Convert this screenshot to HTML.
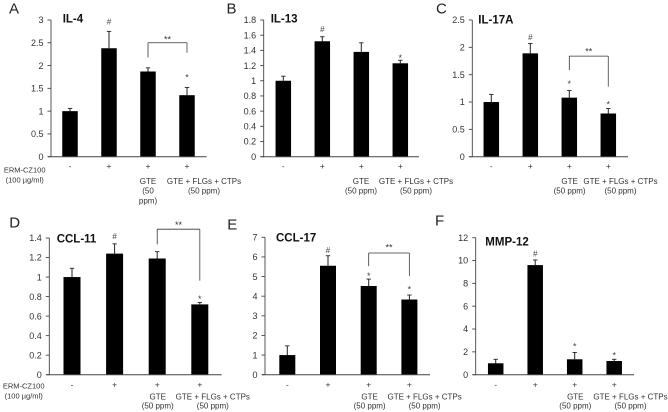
<!DOCTYPE html>
<html lang="en">
<head>
<meta charset="utf-8">
<title>Cytokine expression bar charts</title>
<style>
html,body{margin:0;padding:0;background:#fff;}
#figure{display:block;width:668px;height:412px;filter:blur(0.3px);}
text{font-family:"Liberation Sans",sans-serif;fill:#333;}
</style>
</head>
<body>
<svg id="figure" xmlns="http://www.w3.org/2000/svg" width="668" height="412" viewBox="0 0 668 412"></svg>
<script>
// Shared categories
const signs = ['-', '+', '+', '+'];

// Panel A: IL-4
const il4Ticks = ['0', '0.5', '1', '1.5', '2', '2.5', '3'];
const il4Values = [1, 2.38, 1.87, 1.35];
const il4ErrorTops = [1.06, 2.75, 1.95, 1.52];
const il4Marks = ['', '#', '', '*'];
const il4MarkLevels = [0, 2.96, 0, 1.77];
const il4Bracket = [2.5, 2.18, 2.28, 2.61];

// Panel B: IL-13
const il13Ticks = ['0', '0.2', '0.4', '0.6', '0.8', '1', '1.2', '1.4', '1.6', '1.8'];
const il13Values = [1, 1.52, 1.38, 1.23];
const il13ErrorTops = [1.06, 1.58, 1.5, 1.27];
const il13Marks = ['', '#', '', '*'];
const il13MarkLevels = [0, 1.68, 0, 1.32];
const il13Bracket = [];

// Panel C: IL-17A
const il17Ticks = ['0', '0.5', '1', '1.5', '2', '2.5'];
const il17Values = [1, 1.89, 1.08, 0.79];
const il17ErrorTops = [1.14, 2.07, 1.21, 0.88];
const il17Marks = ['', '#', '*', '*'];
const il17MarkLevels = [0, 2.19, 1.36, 0.98];
const il17Bracket = [1.84, 1.585, 1.28, 1.95];

// Panel D: CCL-11
const ccl11Ticks = ['0', '0.2', '0.4', '0.6', '0.8', '1', '1.2', '1.4'];
const ccl11Values = [1, 1.24, 1.19, 0.72];
const ccl11ErrorTops = [1.09, 1.34, 1.26, 0.74];
const ccl11Marks = ['', '#', '', '*'];
const ccl11MarkLevels = [0, 1.42, 0, 0.79];
const ccl11Bracket = [1.49, 1.335, 0.963, 1.55];

// Panel E: CCL-17
const ccl17Ticks = ['0', '1', '2', '3', '4', '5', '6', '7'];
const ccl17Values = [1, 5.55, 4.52, 3.83];
const ccl17ErrorTops = [1.47, 6.06, 4.87, 4.06];
const ccl17Marks = ['', '#', '*', '*'];
const ccl17MarkLevels = [0, 6.34, 5.11, 4.43];
const ccl17Bracket = [6.2, 5.53, 5.03, 6.55];

// Panel F: MMP-12
const mmp12Ticks = ['0', '2', '4', '6', '8', '10', '12'];
const mmp12Values = [1, 9.6, 1.35, 1.2];
const mmp12ErrorTops = [1.35, 10.05, 1.95, 1.35];
const mmp12Marks = ['', '#', '*', '*'];
const mmp12MarkLevels = [0, 10.6, 2.63, 1.81];
const mmp12Bracket = [];

const svg = document.getElementById('figure');
const NS = 'http://www.w3.org/2000/svg';

function addLine(parent, x1, y1, x2, y2, stroke, width, name) {
  const el = document.createElementNS(NS, 'line');
  el.setAttribute('x1', x1);
  el.setAttribute('y1', y1);
  el.setAttribute('x2', x2);
  el.setAttribute('y2', y2);
  el.setAttribute('stroke', stroke);
  el.setAttribute('stroke-width', width);
  
  
  parent.appendChild(el);
  return el;
}

function addText(parent, content, x, y, size, anchor, name, weight, color) {
  const el = document.createElementNS(NS, 'text');
  el.setAttribute('x', x);
  el.setAttribute('y', y);
  el.setAttribute('font-size', size);
  el.setAttribute('text-anchor', anchor);
  if (weight) el.setAttribute('font-weight', weight);
  if (color) el.setAttribute('style', 'fill:' + color);
  
  
  el.textContent = content;
  parent.appendChild(el);
  return el;
}

function drawPanel(p) {
  const g = document.createElementNS(NS, 'g');
  
  
  svg.appendChild(g);

  const maxTick = parseFloat(p.ticks[p.ticks.length - 1]);
  const yScale = v => p.y0 - (v / maxTick) * (p.y0 - p.yTop);
  const xScale = i => p.first + i * p.step;

  addText(g, p.letter, p.letterX, p.letterY, 15, 'start', 'panel-letter-' + p.key, null, '#222');
  addText(g, p.title, p.titleX, p.titleY, 11.5, 'start', 'chart-title-' + p.key, 'bold', '#111');

  // Bars and error bars
  p.values.forEach((v, i) => {
    const cx = xScale(i);
    const top = yScale(p.errs[i]);
    addLine(g, cx, yScale(v), cx, top, '#222', 1, 'error-bar-' + p.key + '-' + i);
    addLine(g, cx - 2.2, top, cx + 2.2, top, '#222', 0.9, 'error-cap-' + p.key + '-' + i);
    const bar = document.createElementNS(NS, 'rect');
    bar.setAttribute('x', cx - p.barW / 2);
    bar.setAttribute('y', yScale(v));
    bar.setAttribute('width', p.barW);
    bar.setAttribute('height', p.y0 - yScale(v));
    bar.setAttribute('fill', '#000');
    
    
    g.appendChild(bar);
  });

  // Axes
  addLine(g, p.axisX, p.yTop, p.axisX, p.y0, '#444', 0.9, 'y-axis-' + p.key);
  addLine(g, p.axisX - 3, p.y0, p.xEnd, p.y0, '#444', 1, 'x-axis-' + p.key);
  p.ticks.forEach((t, i) => {
    const y = yScale(parseFloat(t));
    addLine(g, p.axisX - 3.5, y, p.axisX, y, '#444', 0.9, 'y-tick-' + p.key + '-' + i);
    addText(g, t, p.axisX - 7.5, y + 3.2, 9, 'end', 'y-tick-label-' + p.key + '-' + i);
  });

  // Significance marks
  p.marks.forEach((m, i) => {
    if (!m) return;
    const off = m === '#' ? 2.8 : 4.6;
    addText(g, m, xScale(i), yScale(p.markLevels[i]) + off, m === '#' ? 8 : 9, 'middle', 'significance-mark-' + p.key + '-' + i, null, '#444');
  });

  // Bracket between bars 3 and 4
  if (p.bracket.length) {
    const xL = xScale(2);
    const xR = xScale(3);
    const yT = yScale(p.bracket[0]);
    addLine(g, xL, yT, xR, yT, '#333', 0.8, 'bracket-top-' + p.key);
    addLine(g, xL, yT, xL, yScale(p.bracket[1]), '#333', 0.8, 'bracket-left-' + p.key);
    addLine(g, xR, yT, xR, yScale(p.bracket[2]), '#555', 0.9, 'bracket-right-' + p.key);
    addText(g, '**', (xL + xR) / 2, yScale(p.bracket[3]) + 4.6, 9, 'middle', 'bracket-label-' + p.key, null, '#333');
  }

  // Category labels
  signs.forEach((s, i) => {
    addText(g, s, xScale(i), p.signY, 8.5, 'middle', 'treatment-sign-' + p.key + '-' + i);
  });
  addText(g, 'GTE', p.gteX, p.l1, 8, 'middle', 'gte-label-' + p.key);
  if (p.wrapGte) {
    addText(g, '(50', p.gteX, p.l2, 8, 'middle', 'gte-dose-line1-' + p.key);
    addText(g, 'ppm)', p.gteX, p.l2 + 10, 8, 'middle', 'gte-dose-line2-' + p.key);
  } else {
    addText(g, '(50 ppm)', p.gteX, p.l2, 8, 'middle', 'gte-dose-' + p.key);
  }
  addText(g, 'GTE + FLGs + CTPs', p.comboX, p.l1, 8, 'middle', 'combo-label-' + p.key);
  addText(g, '(50 ppm)', p.comboX, p.l2, 8, 'middle', 'combo-dose-' + p.key);
  if (p.ermX) {
    addText(g, 'ERM-CZ100', p.ermX, p.ermY, 7.5, 'middle', 'erm-label-' + p.key);
    addText(g, '(100 µg/ml)', p.ermX, p.ermY + 10, 7.5, 'middle', 'erm-dose-' + p.key);
  }
}

drawPanel({key:'il-4', letter:'A', letterX:9, letterY:13.5, title:'IL-4', titleX:62.7, titleY:22.5,
  ticks:il4Ticks, values:il4Values, errs:il4ErrorTops, marks:il4Marks, markLevels:il4MarkLevels, bracket:il4Bracket,
  axisX:51, xEnd:206.7, y0:156.7, yTop:20, first:70, step:39, barW:15.5,
  signY:169, l1:184, l2:193.5, gteX:148, comboX:204, wrapGte:true, ermX:24.7, ermY:172.5});
drawPanel({key:'il-13', letter:'B', letterX:226.5, letterY:13.5, title:'IL-13', titleX:270.7, titleY:22.7,
  ticks:il13Ticks, values:il13Values, errs:il13ErrorTops, marks:il13Marks, markLevels:il13MarkLevels, bracket:il13Bracket,
  axisX:263.7, xEnd:419, y0:156.7, yTop:20, first:283.3, step:39, barW:15.5,
  signY:169, l1:184, l2:193.5, gteX:361, comboX:416});
drawPanel({key:'il-17a', letter:'C', letterX:436, letterY:13.5, title:'IL-17A', titleX:478.3, titleY:23.7,
  ticks:il17Ticks, values:il17Values, errs:il17ErrorTops, marks:il17Marks, markLevels:il17MarkLevels, bracket:il17Bracket,
  axisX:472.3, xEnd:628, y0:156.7, yTop:20, first:491.3, step:39, barW:15.5,
  signY:169, l1:184, l2:193.5, gteX:569.6, comboX:620.5});
drawPanel({key:'ccl-11', letter:'D', letterX:9.3, letterY:227.7, title:'CCL-11', titleX:56.7, titleY:242.7,
  ticks:ccl11Ticks, values:ccl11Values, errs:ccl11ErrorTops, marks:ccl11Marks, markLevels:ccl11MarkLevels, bracket:ccl11Bracket,
  axisX:49.3, xEnd:221.7, y0:374.7, yTop:238, first:72, step:42.6, barW:17,
  signY:387.5, l1:399.3, l2:408.7, gteX:157.7, comboX:212.8, ermX:23.7, ermY:388.7});
drawPanel({key:'ccl-17', letter:'E', letterX:227.3, letterY:229.3, title:'CCL-17', titleX:276, titleY:241.7,
  ticks:ccl17Ticks, values:ccl17Values, errs:ccl17ErrorTops, marks:ccl17Marks, markLevels:ccl17MarkLevels, bracket:ccl17Bracket,
  axisX:265, xEnd:430, y0:374.7, yTop:237.3, first:287.3, step:40.7, barW:16,
  signY:387.5, l1:399.3, l2:408.7, gteX:369.6, comboX:424.6});
drawPanel({key:'mmp-12', letter:'F', letterX:435, letterY:225.3, title:'MMP-12', titleX:485.3, titleY:245.3,
  ticks:mmp12Ticks, values:mmp12Values, errs:mmp12ErrorTops, marks:mmp12Marks, markLevels:mmp12MarkLevels, bracket:mmp12Bracket,
  axisX:475.7, xEnd:634, y0:374.7, yTop:237.7, first:495.7, step:39.5, barW:15.5,
  signY:387.5, l1:399.3, l2:408.7, gteX:575.3, comboX:630.5});
</script>
</body>
</html>
